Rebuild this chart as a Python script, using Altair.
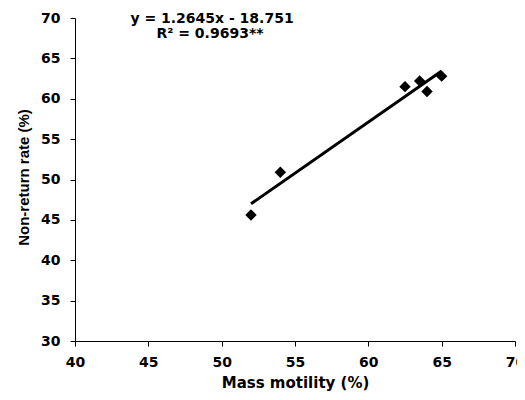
import altair as alt
import pandas as pd

motility = [52.0, 54.0, 62.5, 63.5, 64.0, 65.0]
nonreturn = [45.6, 50.9, 61.5, 62.2, 60.9, 62.8]
eq_line1 = ["y = 1.2645x - 18.751"]
eq_line2 = ["R² = 0.9693**"]

df = pd.DataFrame({"x": motility, "y": nonreturn})
WIDE = "DejaVu Sans"
ARIAL = "Liberation Sans"

xs = alt.Scale(domain=[40, 70], nice=False, zero=False)
ys = alt.Scale(domain=[30, 70], nice=False, zero=False)

base = alt.Chart(df)

pts = base.mark_point(shape="diamond", filled=True, color="black", size=130, opacity=1).encode(
    x=alt.X("x:Q", scale=xs, axis=alt.Axis(
        title="Mass motility (%)", values=[40, 45, 50, 55, 60, 65, 70],
        grid=False, domainColor="black", tickColor="black", tickSize=5,
        labelFont=WIDE, labelFontSize=14, labelFontWeight="bold", labelColor="black",
        labelPadding=9, labelFlush=False,
        titleFont=WIDE, titleFontSize=15, titleFontWeight="bold", titleColor="black",
        titleY=41, titleBaseline="middle")),
    y=alt.Y("y:Q", scale=ys, axis=alt.Axis(
        title="Non-return rate (%)", values=[30, 35, 40, 45, 50, 55, 60, 65, 70],
        grid=False, domainColor="black", tickColor="black", tickSize=5,
        labelFont=WIDE, labelFontSize=14, labelFontWeight="bold", labelColor="black",
        labelPadding=10, labelFlush=False,
        titleFont=ARIAL, titleFontSize=15, titleFontWeight="bold", titleColor="black",
        titleX=-52, titleY=159, titleBaseline="middle")),
)

fit = base.transform_regression("x", "y").mark_line(color="black", strokeWidth=3).encode(
    x=alt.X("x:Q", scale=xs), y=alt.Y("y:Q", scale=ys)
)

eq1 = alt.Chart(pd.DataFrame({"t": eq_line1})).mark_text(
    font=WIDE, fontSize=14, fontWeight="bold", color="black",
    align="center", baseline="middle").encode(text="t:N", x=alt.value(137), y=alt.value(1))
eq2 = alt.Chart(pd.DataFrame({"t": eq_line2})).mark_text(
    font=WIDE, fontSize=14, fontWeight="bold", color="black",
    align="center", baseline="middle").encode(text="t:N", x=alt.value(135), y=alt.value(16))

chart = alt.layer(fit, pts, eq1, eq2).properties(
    width=440, height=323,
    autosize=alt.AutoSizeParams(type="none"),
    padding={"left": 67, "top": 10, "right": 2, "bottom": 50},
).configure_view(stroke=None)

chart.save("out.html", embed_options={"renderer": "svg", "actions": False})
